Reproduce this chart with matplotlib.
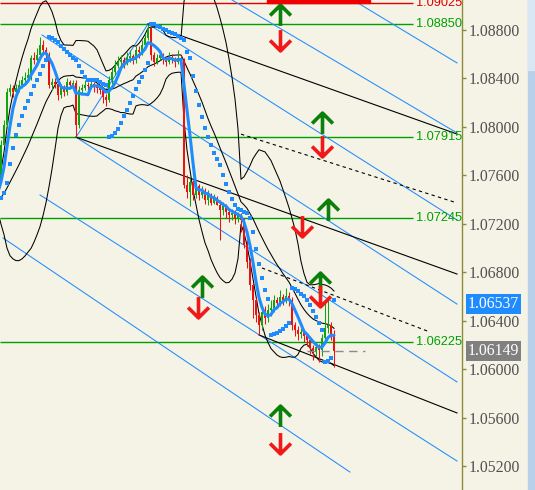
import numpy as np
import pandas as pd
import matplotlib
matplotlib.use("Agg")
import matplotlib.pyplot as plt
from matplotlib.path import Path
from matplotlib.markers import MarkerStyle
from matplotlib.patches import Rectangle
from matplotlib.transforms import blended_transform_factory

# ---------------------------------------------------------------- data
# history bars left of the visible window (indicator warm-up)
hist_close = [1.07380, 1.07363, 1.07388, 1.07355, 1.07347, 1.07372, 1.07363, 1.07338, 1.07355, 1.07380,
              1.07396, 1.07372, 1.07388, 1.07405, 1.07396, 1.07413, 1.07405, 1.07438, 1.07479, 1.07561]
hist_high = [1.07413, 1.07405, 1.07413, 1.07413, 1.07380, 1.07396, 1.07396, 1.07388, 1.07380, 1.07405,
             1.07421, 1.07421, 1.07413, 1.07429, 1.07429, 1.07438, 1.07438, 1.07462, 1.07504, 1.07586]
hist_low = [1.07355, 1.07338, 1.07338, 1.07330, 1.07322, 1.07322, 1.07338, 1.07314, 1.07314, 1.07330,
            1.07355, 1.07347, 1.07347, 1.07363, 1.07372, 1.07372, 1.07380, 1.07380, 1.07413, 1.07454]
first_open = 1.07388

# visible bars
close = [1.07850, 1.08016, 1.08288, 1.08321, 1.08288, 1.08321, 1.08346, 1.08387, 1.08404, 1.08428,
         1.08569, 1.08552, 1.08594, 1.08676, 1.08635, 1.08594, 1.08346, 1.08371, 1.08354, 1.08263,
         1.08321, 1.08288, 1.08371, 1.08346, 1.08362, 1.08016, 1.08305, 1.08321, 1.08346, 1.08338,
         1.08354, 1.08338, 1.08321, 1.08305, 1.08247, 1.08222, 1.08387, 1.08453, 1.08503, 1.08536,
         1.08552, 1.08528, 1.08569, 1.08585, 1.08552, 1.08635, 1.08618, 1.08676, 1.08734, 1.08817,
         1.08594, 1.08536, 1.08569, 1.08594, 1.08552, 1.08536, 1.08577, 1.08552, 1.08536, 1.08569,
         1.08552, 1.07520, 1.07462, 1.07545, 1.07438, 1.07512, 1.07438, 1.07462, 1.07396, 1.07438,
         1.07371, 1.07413, 1.07355, 1.07314, 1.07347, 1.07297, 1.07272, 1.07289, 1.07248, 1.07272,
         1.07231, 1.07025, 1.06884, 1.06694, 1.06571, 1.06447, 1.06365, 1.06472, 1.06422, 1.06488,
         1.06505, 1.06571, 1.06546, 1.06595, 1.06571, 1.06604, 1.06571, 1.06365, 1.06323, 1.06290,
         1.06307, 1.06274, 1.06241, 1.06175, 1.06141, 1.06183, 1.06158, 1.06257, 1.06340, 1.06365,
         1.06282, 1.06149]
high = [1.07892, 1.08057, 1.08321, 1.08354, 1.08346, 1.08354, 1.08387, 1.08420, 1.08453, 1.08486,
        1.08594, 1.08618, 1.08651, 1.08742, 1.08717, 1.08660, 1.08618, 1.08404, 1.08404, 1.08387,
        1.08354, 1.08346, 1.08404, 1.08387, 1.08387, 1.08387, 1.08338, 1.08354, 1.08387, 1.08371,
        1.08387, 1.08371, 1.08354, 1.08346, 1.08321, 1.08272, 1.08420, 1.08486, 1.08552, 1.08585,
        1.08594, 1.08577, 1.08618, 1.08635, 1.08602, 1.08668, 1.08668, 1.08717, 1.08767, 1.08850,
        1.08825, 1.08618, 1.08602, 1.08635, 1.08610, 1.08585, 1.08618, 1.08602, 1.08577, 1.08635,
        1.08594, 1.08569, 1.07603, 1.07578, 1.07561, 1.07545, 1.07528, 1.07512, 1.07495, 1.07479,
        1.07454, 1.07446, 1.07429, 1.07396, 1.07380, 1.07363, 1.07330, 1.07322, 1.07314, 1.07297,
        1.07289, 1.07248, 1.07066, 1.06917, 1.06711, 1.06587, 1.06472, 1.06505, 1.06521, 1.06538,
        1.06571, 1.06612, 1.06595, 1.06653, 1.06620, 1.06670, 1.06637, 1.06595, 1.06389, 1.06356,
        1.06340, 1.06323, 1.06299, 1.06257, 1.06199, 1.06216, 1.06208, 1.06290, 1.06554, 1.06571,
        1.06389, 1.06323]
low = [1.07537, 1.07850, 1.07991, 1.08255, 1.08247, 1.08263, 1.08288, 1.08321, 1.08354, 1.08371,
       1.08387, 1.08519, 1.08528, 1.08569, 1.08594, 1.08552, 1.08321, 1.08305, 1.08321, 1.08222,
       1.08239, 1.08255, 1.08263, 1.08321, 1.08321, 1.07915, 1.07991, 1.08272, 1.08305, 1.08305,
       1.08313, 1.08288, 1.08280, 1.08272, 1.08197, 1.08172, 1.08205, 1.08354, 1.08428, 1.08486,
       1.08503, 1.08486, 1.08511, 1.08536, 1.08519, 1.08528, 1.08569, 1.08594, 1.08651, 1.08717,
       1.08552, 1.08503, 1.08519, 1.08552, 1.08519, 1.08503, 1.08519, 1.08528, 1.08494, 1.08519,
       1.08519, 1.07495, 1.07413, 1.07347, 1.07396, 1.07413, 1.07396, 1.07413, 1.07363, 1.07355,
       1.07355, 1.07363, 1.07355, 1.07066, 1.07272, 1.07248, 1.07215, 1.07231, 1.07198, 1.07215,
       1.07132, 1.07000, 1.06835, 1.06653, 1.06422, 1.06389, 1.06282, 1.06323, 1.06373, 1.06389,
       1.06439, 1.06472, 1.06505, 1.06521, 1.06529, 1.06546, 1.06521, 1.06323, 1.06274, 1.06241,
       1.06257, 1.06224, 1.06191, 1.06125, 1.06075, 1.06108, 1.06059, 1.06108, 1.06224, 1.06299,
       1.06241, 1.06017]

# horizontal levels: (price, colour)
level_prices = [1.09025, 1.08850, 1.07915, 1.07245, 1.06225]
level_colors = ["#e00000", "#00a000", "#00a000", "#00a000", "#00a000"]

# trend lines: (bar0, price0, bar1, price1)
black_lines = [(49, 1.08850, 152, 1.07941),
               (25, 1.07915, 152, 1.06785),
               (86, 1.06282, 152, 1.05638)]
dashed_lines = [(80, 1.07940, 152, 1.07372),
                (87, 1.06835, 143, 1.06306)]
blue_lines = [(117.3, 1.09048, 152, 1.08528),
              (77, 1.09048, 152, 1.07950),
              (49, 1.08850, 152, 1.07231),
              (13.67, 1.08759, 152, 1.06537),
              (25, 1.07915, 152, 1.05894),
              (13, 1.07438, 152, 1.05241),
              (0.67, 1.07083, 116.3, 1.05150),
              (25, 1.07915, 49, 1.08850)]

# signal arrows: (bar, price)
up_arrows = [(93, 1.08924), (107, 1.08032), (109, 1.07314), (106.3, 1.06711), (67, 1.06678), (93, 1.05613)]
down_arrows = [(93, 1.08717), (107, 1.07842), (100.3, 1.07182), (106.3, 1.06604), (65.7, 1.06513), (93, 1.05390)]

trend_label_price = 1.06537
bid_price = 1.06149

# ---------------------------------------------------------------- series
n_hist = len(hist_close)
all_close = np.array(hist_close + close)
all_high = np.array(hist_high + high)
all_low = np.array(hist_low + low)
all_open = np.concatenate([[first_open], all_close[:-1]])
bars = np.arange(len(all_close)) - n_hist

s = pd.Series(all_close)
ma = s.rolling(5).mean().to_numpy()
mid = s.rolling(20).mean()
sd = s.rolling(20).std(ddof=0)
bb_up = (mid + 2 * sd).to_numpy()
bb_dn = (mid - 2 * sd).to_numpy()
mid = mid.to_numpy()


def parabolic_sar(hi, lo, step=0.02, max_step=0.2):
    n = len(hi)
    sar = np.zeros(n)
    bull = False
    af = step
    ep = lo[0]
    sar[0] = hi[0]
    for i in range(1, n):
        prev = sar[i - 1]
        v = prev + af * (ep - prev)
        if bull:
            v = min(v, lo[i - 1], lo[max(i - 2, 0)])
            if lo[i] < v:
                bull, v, ep, af = False, ep, lo[i], step
            elif hi[i] > ep:
                ep, af = hi[i], min(af + step, max_step)
        else:
            v = max(v, hi[i - 1], hi[max(i - 2, 0)])
            if hi[i] > v:
                bull, v, ep, af = True, ep, hi[i], step
            elif lo[i] < ep:
                ep, af = lo[i], min(af + step, max_step)
        sar[i] = v
    return sar


sar = parabolic_sar(all_high, all_low)

# ---------------------------------------------------------------- figure
W, H = 535, 490
fig = plt.figure(figsize=(W / 100, H / 100), dpi=100)
bg = "#f5f3e6"
fig.patch.set_facecolor(bg)
ax = fig.add_axes([0, 0, 462 / W, 1])
ax.set_facecolor(bg)

xmin = -1 / 3
ax.set_xlim(xmin, xmin + 462 / 3)
ax.set_ylim(1.050018, 1.090477)

RED = "#ee1111"
BLUE = "#1e8cff"

# horizontal levels
for p, c in zip(level_prices, level_colors):
    ax.plot([xmin, 137.3], [p, p], color=c, lw=1.0, solid_capstyle="butt", zorder=2)
    ax.text(138.3, p, f"{p:.5f}", color=c, fontsize=9.2, family="Liberation Sans",
            va="center", ha="left", zorder=6, clip_on=False)

# trend lines
for b0, p0, b1, p1 in blue_lines:
    ax.plot([b0, b1], [p0, p1], color=BLUE, lw=0.75, zorder=3)
for b0, p0, b1, p1 in black_lines:
    ax.plot([b0, b1], [p0, p1], color="black", lw=0.8, zorder=3)
for b0, p0, b1, p1 in dashed_lines:
    ax.plot([b0, b1], [p0, p1], color="black", lw=0.8, ls=(0, (3, 3)), zorder=3)

# Bollinger bands
for band in (bb_up, mid, bb_dn):
    ax.plot(bars, band, color="black", lw=0.75, zorder=3)

# candles
up = all_close >= all_open
for mask, col in ((up, "#12a312"), (~up, RED)):
    ax.vlines(bars[mask], all_low[mask], all_high[mask], color=col, lw=0.75, zorder=4)
    lo_b = np.minimum(all_open, all_close)[mask]
    hi_b = np.maximum(all_open, all_close)[mask]
    ax.bar(bars[mask], np.maximum(hi_b - lo_b, 0.00003), bottom=lo_b, width=0.7,
           color=col, linewidth=0, zorder=4)

# moving average and parabolic SAR
ax.plot(bars, ma, color=BLUE, lw=2.2, zorder=5, solid_capstyle="round")
ax.plot(bars, sar, ls="none", marker="s", ms=2.2, color=BLUE, mew=0, zorder=5)

# bid line
ax.plot([102, 121.3], [bid_price, bid_price], color="#8c8c8c", lw=1.0, ls=(0, (6, 4)), zorder=5)

# signal arrows
up_path = Path([(-1, 0), (0, 1), (1, 0), (0, 1), (0, -1)],
               [Path.MOVETO, Path.LINETO, Path.LINETO, Path.MOVETO, Path.LINETO])
down_path = Path([(-1, 0), (0, -1), (1, 0), (0, -1), (0, 1)],
                 [Path.MOVETO, Path.LINETO, Path.LINETO, Path.MOVETO, Path.LINETO])
for (b, p) in up_arrows:
    ax.plot([b], [p], marker=MarkerStyle(up_path, joinstyle="miter", capstyle="butt"), ms=15,
            mfc="none", mec="#0a800a", mew=2.6, ls="none", zorder=7)
for (b, p) in down_arrows:
    ax.plot([b], [p], marker=MarkerStyle(down_path, joinstyle="miter", capstyle="butt"), ms=15,
            mfc="none", mec="#f01818", mew=2.6, ls="none", zorder=7)

# axis styling
for side in ("left", "top", "bottom"):
    ax.spines[side].set_visible(False)
ax.spines["right"].set_color("#8b8b3c")
ax.spines["right"].set_linewidth(1.0)
ax.set_xticks([])
ax.yaxis.tick_right()
yt = np.round(np.arange(1.052, 1.0881, 0.004), 3)
ax.set_yticks(yt)
ax.set_yticklabels([f"{v:.5f}" for v in yt])
ax.tick_params(axis="y", direction="out", length=3, width=1, color="#8b8b3c",
               labelcolor="#505050", labelsize=11.3, pad=2)
for t in ax.get_yticklabels():
    t.set_family("Liberation Serif")

# price tags on the axis
tf = blended_transform_factory(ax.transAxes, ax.transData)
for p, fc in ((trend_label_price, "#1e8cff"), (bid_price, "#808080")):
    ax.text(1.012, p, f"{p:.5f}", transform=tf, color="white", fontsize=11.3,
            family="Liberation Serif", va="center", ha="left", zorder=8, clip_on=False,
            bbox=dict(boxstyle="square,pad=0.12", fc=fc, ec="none"))

# window frame strip at the right edge and header fragment at the top
fig.add_artist(Rectangle((528 / W, 0), 7 / W, 1, transform=fig.transFigure,
                         color="#b9d0ea", zorder=10))
fig.add_artist(Rectangle((528 / W, 1 - 70 / H), 7 / W, 70 / H, transform=fig.transFigure,
                         color="#d9e6f4", zorder=10))
fig.add_artist(Rectangle((267 / W, 1 - 3 / H), 103 / W, 3 / H, transform=fig.transFigure,
                         color="#ee0000", zorder=10))

fig.savefig("out.png", dpi=100, facecolor=bg)
